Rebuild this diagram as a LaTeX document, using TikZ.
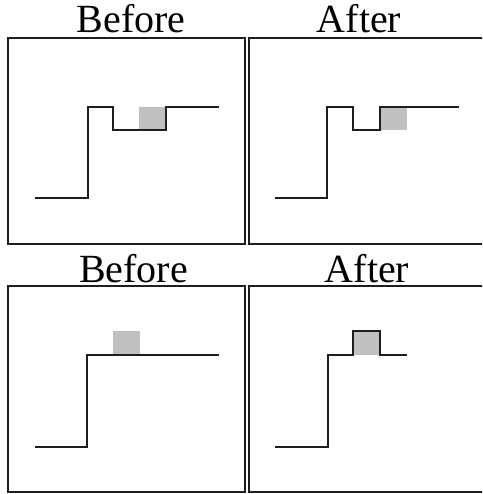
\documentclass[tikz,border=0pt]{standalone}
\usepackage{fontspec}
\setmainfont{Liberation Serif}
\definecolor{blockgray}{RGB}{192,192,192}
\definecolor{ink}{RGB}{30,30,30}
\begin{document}
\begin{tikzpicture}[x=1pt,y=-1pt,
  panel/.style={draw=ink,line width=1.6pt},
  curve/.style={draw=ink,line width=1.3pt,line join=miter},
  block/.style={fill=blockgray},
  title/.style={font=\fontsize{40}{40}\selectfont,anchor=base,inner sep=0pt}]
\useasboundingbox (0,0) rectangle (482,494);
\clip (0,0) rectangle (482,494);
\fill[white] (0,0) rectangle (482,494);
% titles
\node[title] (t1) at (131,33) {Before};
\node[title] (t2) at (359,33) {After};
\node[title] (t3) at (133.5,282) {Before};
\node[title] (t4) at (367,282) {After};
% panels
\draw[panel] (8,38) rectangle (245,244);
\draw[panel] (249,38) rectangle (490,244);
\draw[panel] (8,286) rectangle (245,492);
\draw[panel] (249,286) rectangle (490,492);
% top-left
\fill[block] (139,107) rectangle (166,130);
\draw[curve] (35,198) -- (88,198) -- (88,107) -- (113,107) -- (113,130) -- (166,130) -- (166,107) -- (219,107);
% top-right
\fill[block] (380,107) rectangle (407,130);
\draw[curve] (275,198) -- (327,198) -- (327,107) -- (353,107) -- (353,130) -- (380,130) -- (380,107) -- (459,107);
% bottom-left
\fill[block] (113,331) rectangle (140,355);
\draw[curve] (35,447) -- (87,447) -- (87,355) -- (219,355);
% bottom-right
\fill[block] (353,331) rectangle (380,355);
\draw[curve] (275,447) -- (328,447) -- (328,355) -- (353,355) -- (353,331) -- (380,331) -- (380,355) -- (407,355);
\end{tikzpicture}
\end{document}
